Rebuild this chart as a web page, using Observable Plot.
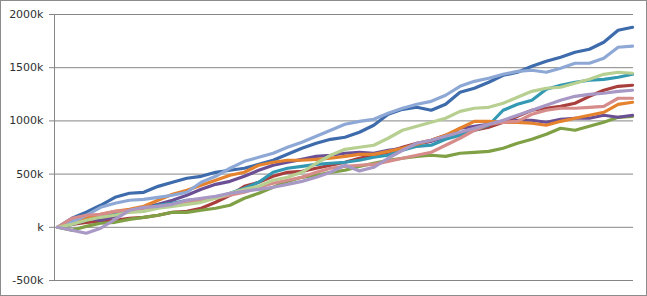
<!DOCTYPE html>
<html>
<head>
<meta charset="utf-8">
<script src="https://cdn.jsdelivr.net/npm/d3@7"></script>
<script src="https://cdn.jsdelivr.net/npm/@observablehq/plot@0.6"></script>
<style>
  html, body { margin: 0; padding: 0; background: #fff; }
  #chart svg { display: block; outline: 1px solid #8c8c8c; outline-offset: -1px; }
</style>
</head>
<body>
<div id="chart"></div>
<script>
// Values in thousands ("k"), one sample per step (41 steps across the chart)
const series1 = [0,85,141,207,282,320,329,385,423,461,479,517,536,555,592,630,686,742,790,827,846,893,959,1062,1109,1128,1100,1156,1269,1307,1363,1429,1457,1513,1560,1598,1645,1673,1739,1852,1880];
const series2 = [0,28,47,56,66,85,94,113,141,150,179,235,301,385,423,479,517,526,555,583,611,649,677,705,752,790,818,865,884,912,940,987,1043,1100,1119,1137,1166,1231,1288,1325,1335];
const series3 = [0,-28,9,38,47,75,94,113,141,141,160,179,207,273,320,376,432,470,489,517,536,573,602,630,649,667,677,667,696,705,714,743,790,827,874,931,912,949,987,1034,1043];
const series4 = [0,47,85,66,103,160,188,216,254,301,357,404,432,479,536,583,611,639,667,677,696,705,696,724,743,780,808,846,931,949,968,987,1006,1006,987,1015,1025,1025,1053,1034,1053];
const series5 = [0,28,66,103,132,160,179,207,226,254,263,282,320,367,423,517,555,573,592,602,611,630,658,677,724,761,771,827,865,912,959,1100,1156,1194,1297,1335,1363,1382,1391,1410,1438];
const series6 = [0,47,94,122,150,169,197,254,310,348,395,442,489,517,583,611,630,630,639,649,667,686,686,714,743,780,818,865,931,996,996,987,987,978,959,996,1025,1053,1081,1156,1175];
const series7 = [0,47,113,188,226,254,263,282,301,329,423,479,555,620,658,696,752,799,855,912,968,996,1015,1072,1119,1156,1184,1241,1325,1372,1401,1438,1466,1476,1457,1495,1542,1542,1589,1692,1702];
const series8 = [0,85,113,122,150,160,179,197,216,235,254,273,301,329,376,414,442,470,517,555,573,583,592,620,649,677,705,771,837,912,968,987,996,1062,1100,1119,1119,1128,1137,1213,1213];
const series9 = [0,28,66,94,113,141,150,179,197,216,235,273,320,357,385,442,470,517,602,677,733,752,771,837,912,950,987,1025,1090,1119,1128,1166,1222,1278,1307,1316,1354,1391,1438,1457,1448];
const series10 = [0,-28,-56,-9,75,160,188,197,216,254,273,291,320,338,357,376,404,432,470,517,583,530,564,649,724,790,818,855,893,931,968,1006,1053,1100,1147,1194,1231,1250,1260,1278,1288];

const seriesNames = ["S1","S2","S3","S4","S5","S6","S7","S8","S9","S10"];
const seriesColors = ["#3d6bab","#a93f3c","#7fa044","#6b4f95","#3399b3","#e5822d","#8ea8d6","#d68c8a","#b7cf90","#a898c5"];
const yTicks = [-500, 0, 500, 1000, 1500, 2000];

const allSeries = [series1,series2,series3,series4,series5,series6,series7,series8,series9,series10];
const rows = [];
allSeries.forEach((vals, s) => vals.forEach((v, i) => rows.push({series: seriesNames[s], step: i, value: v})));

const chart = Plot.plot({
  width: 647,
  height: 296,
  marginLeft: 54,
  marginRight: 14,
  marginTop: 14,
  marginBottom: 16,
  style: {fontFamily: "DejaVu Sans, Verdana, sans-serif", fontSize: "11px", color: "#303030", background: "#fff"},
  x: {domain: [0, 40], range: [57, 632], axis: null},
  y: {domain: [-500, 2000], label: null},
  color: {domain: seriesNames, range: seriesColors},
  marks: [
    Plot.ruleY(yTicks, {stroke: "#868686", strokeWidth: 1, strokeOpacity: 1}),
    Plot.frame({anchor: "left", stroke: "#868686", strokeOpacity: 1}),
    Plot.axisY({ticks: yTicks, tickSize: 5, tickPadding: 6, stroke: "#868686", label: null,
                tickFormat: d => d === 0 ? "k" : d + "k", fill: "#303030"}),
    Plot.line(rows, {x: "step", y: "value", z: "series", stroke: "series",
                     strokeWidth: 3.2, strokeLinejoin: "round", strokeLinecap: "round"})
  ]
});
document.getElementById("chart").appendChild(chart);
</script>
</body>
</html>
